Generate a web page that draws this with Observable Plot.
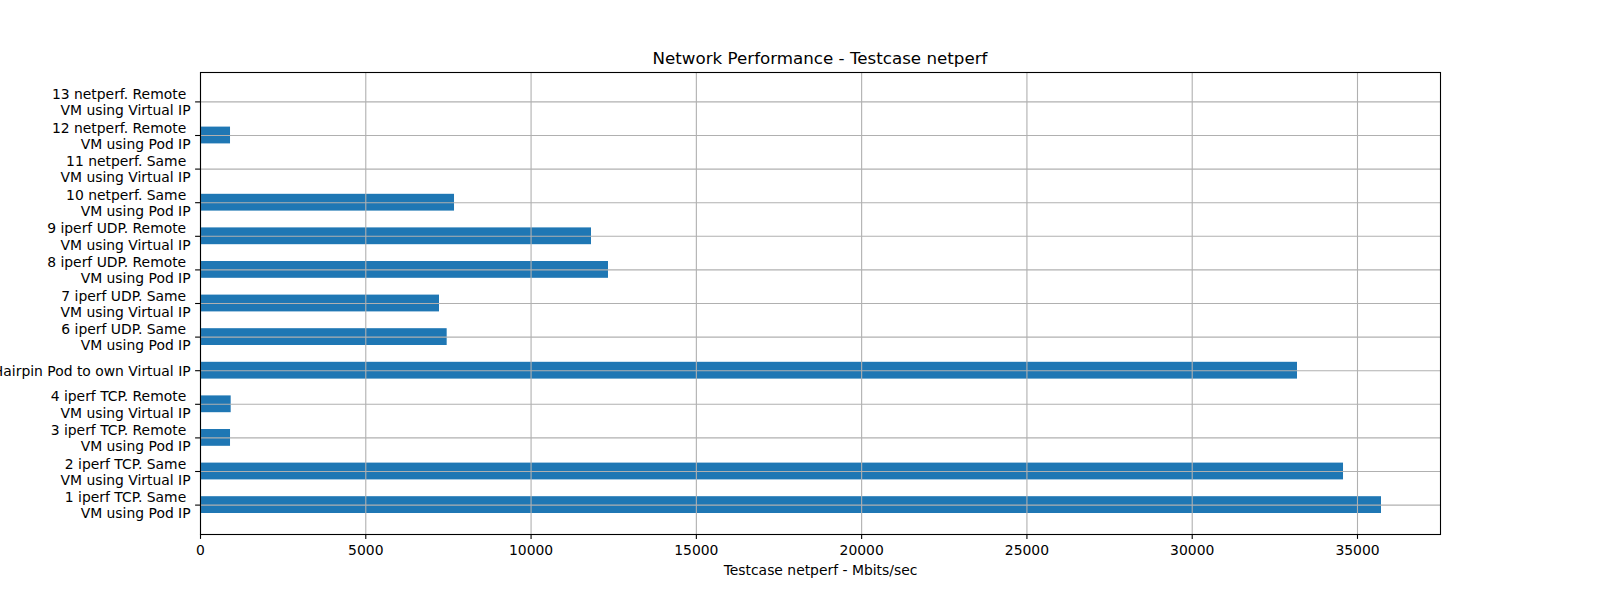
<!DOCTYPE html>
<html>
<head>
<meta charset="utf-8">
<script src="https://cdn.jsdelivr.net/npm/d3@7"></script>
<script src="https://cdn.jsdelivr.net/npm/@observablehq/plot@0.6"></script>
<style>
  html, body { margin: 0; padding: 0; background: white; overflow: hidden; }
  #wrap { width: 1600px; height: 600px; position: relative; font-family: "DejaVu Sans", sans-serif; }
  #title { width: 1600px; height: 66px; box-sizing: border-box; padding-top: 48px; padding-left: 40px;
           line-height: 20px; font-size: 16.7px; text-align: center; color: black; }
</style>
</head>
<body>
<div id="wrap">
  <div id="title">Network Performance - Testcase netperf</div>
  <div id="chart"></div>
</div>
<script>
const categories = [
  "1 iperf TCP. Same\u00a0\nVM using Pod IP",
  "2 iperf TCP. Same\u00a0\nVM using Virtual IP",
  "3 iperf TCP. Remote\u00a0\nVM using Pod IP",
  "4 iperf TCP. Remote\u00a0\nVM using Virtual IP",
  "5 iperf TCP. Hairpin Pod to own Virtual IP",
  "6 iperf UDP. Same\u00a0\nVM using Pod IP",
  "7 iperf UDP. Same\u00a0\nVM using Virtual IP",
  "8 iperf UDP. Remote\u00a0\nVM using Pod IP",
  "9 iperf UDP. Remote\u00a0\nVM using Virtual IP",
  "10 netperf. Same\u00a0\nVM using Pod IP",
  "11 netperf. Same\u00a0\nVM using Virtual IP",
  "12 netperf. Remote\u00a0\nVM using Pod IP",
  "13 netperf. Remote\u00a0\nVM using Virtual IP"
];
const values = [35726, 34577, 908, 928, 33185, 7462, 7230, 12342, 11828, 7684, 0, 908, 0];
const xTicks = [0, 5000, 10000, 15000, 20000, 25000, 30000, 35000];
const xLabel = "Testcase netperf - Mbits/sec";

const table = categories.map((c, i) => ({label: c, value: values[i]}));
const gridStyle = {stroke: "#b0b0b0", strokeOpacity: 1, strokeWidth: 1.1};

const chart = Plot.plot({
  width: 1600,
  height: 534,
  marginLeft: 200,
  marginRight: 160,
  marginTop: 6,
  marginBottom: 66,
  style: {fontFamily: "DejaVu Sans", fontSize: "13.9px", background: "white", color: "black", overflow: "visible"},
  x: {domain: [0, 37511], ticks: xTicks},
  y: {type: "band", domain: categories.slice().reverse(), paddingInner: 0.5, paddingOuter: 0.625, align: 0.5, round: false},
  marks: [
    Plot.barX(table, {x: "value", y: "label", fill: "#1f77b4"}),
    Plot.gridX(xTicks, gridStyle),
    Plot.gridY(gridStyle),
    Plot.frame({stroke: "black", strokeWidth: 1.1}),
    Plot.axisX({ticks: xTicks, tickFormat: d => String(d), tickSize: 4.9, tickPadding: 6,
                fontSize: 13.9, color: "black", strokeWidth: 1.1, label: null}),
    Plot.axisY({tickSize: 4.9, tickPadding: 5, fontSize: 13.9, lineHeight: 1.17,
                color: "black", strokeWidth: 1.1, label: null}),
    Plot.text([xLabel], {text: d => d, frameAnchor: "bottom", dy: 40, lineAnchor: "bottom",
                fontSize: 13.9, fill: "black"})
  ]
});
document.getElementById("chart").appendChild(chart);
</script>
</body>
</html>
